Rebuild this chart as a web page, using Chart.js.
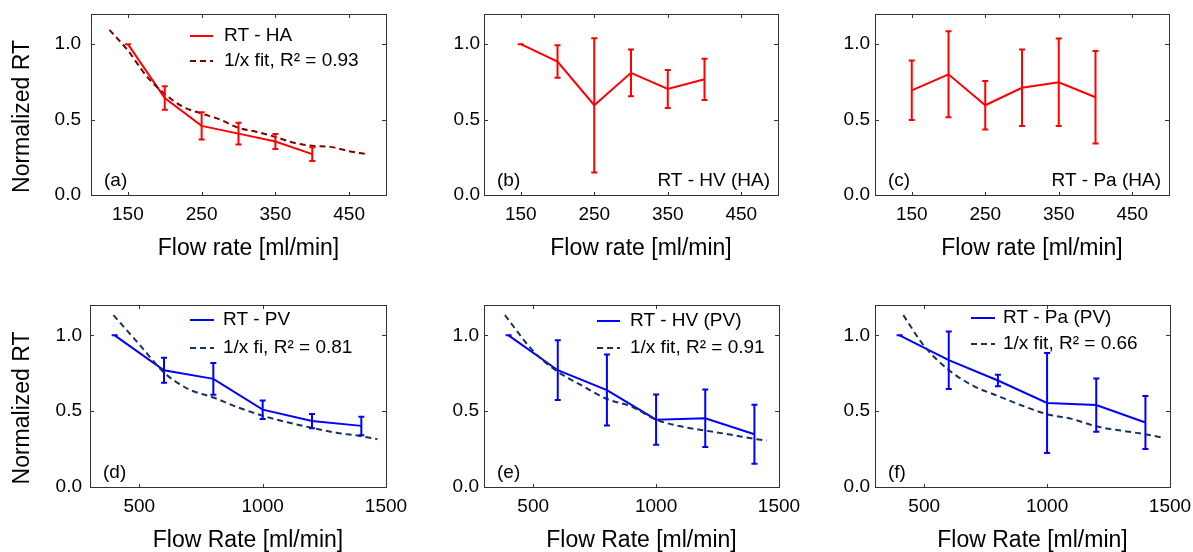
<!DOCTYPE html>
<html>
<head>
<meta charset="utf-8">
<script src="https://cdn.jsdelivr.net/npm/chart.js@4.4.1/dist/chart.umd.min.js"></script>
<style>
  html, body { margin: 0; padding: 0; background: #fff; }
  #wrap { position: relative; width: 1193px; height: 552px; overflow: hidden; background: #fff; }
  #wrap canvas { position: absolute; }
</style>
</head>
<body>
<div id="wrap"></div>
<script>
// ---- Hepatic artery (HA) flow sweep ----
const haFlow = [150, 200, 250, 300, 350, 400];
const haTicks = [150, 250, 350, 450];
const rtHA = [1.0, 0.643, 0.458, 0.407, 0.355, 0.271];
const rtHAErr = [0, 0.078, 0.09, 0.072, 0.05, 0.046];
const fitHAFlow = [125, 150, 175, 200, 225, 250, 275, 300, 325, 350, 375, 400, 425, 450, 475];
const fitHA = [1.095, 0.958, 0.79, 0.67, 0.584, 0.54, 0.50, 0.445, 0.418, 0.385, 0.346, 0.326, 0.319, 0.29, 0.27];
const rtHVHA = [1.0, 0.885, 0.595, 0.81, 0.703, 0.767];
const rtHVHAErr = [0, 0.107, 0.445, 0.155, 0.126, 0.137];
const rtPaHA = [0.694, 0.80, 0.595, 0.711, 0.747, 0.648];
const rtPaHAErr = [0.197, 0.285, 0.16, 0.254, 0.29, 0.306];

// ---- Portal vein (PV) flow sweep ----
const pvFlow = [400, 600, 800, 1000, 1200, 1400];
const pvTicks = [500, 1000, 1500];
const rtPV = [1.0, 0.77, 0.713, 0.51, 0.435, 0.403];
const rtPVErr = [0, 0.082, 0.105, 0.061, 0.047, 0.061];
const fitPVFlow = [395, 500, 600, 700, 800, 900, 1000, 1100, 1200, 1300, 1400, 1465];
const fitPV = [1.133, 0.94, 0.755, 0.645, 0.59, 0.525, 0.47, 0.427, 0.39, 0.357, 0.335, 0.315];
const rtHVPV = [1.0, 0.77, 0.639, 0.444, 0.453, 0.348];
const rtHVPVErr = [0, 0.197, 0.234, 0.166, 0.19, 0.194];
const fitHVPVFlow = [385, 500, 600, 700, 800, 900, 1000, 1100, 1200, 1300, 1400, 1450];
const fitHVPV = [1.133, 0.897, 0.76, 0.667, 0.58, 0.53, 0.444, 0.40, 0.372, 0.346, 0.317, 0.306];
const rtPaPV = [1.0, 0.836, 0.702, 0.554, 0.54, 0.425];
const rtPaPVErr = [0, 0.19, 0.038, 0.33, 0.175, 0.175];
const fitPaPVFlow = [415, 500, 600, 700, 800, 900, 1000, 1100, 1200, 1300, 1400, 1470];
const fitPaPV = [1.133, 0.93, 0.772, 0.667, 0.60, 0.536, 0.48, 0.449, 0.40, 0.372, 0.348, 0.326];

const yTicks = [0, 0.5, 1.0];

const FONT = '"Liberation Sans", Arial, Helvetica, sans-serif';
const RED = '#ff0000', DARKRED = '#800000', BLUE = '#0000ff', NAVY = '#17325f';
const FRAME = '#333333';

Chart.defaults.font.family = FONT;
Chart.defaults.color = '#000';

const panels = [
  { canvas: [0, 0, 420, 276], area: [91, 14, 386, 195], xRange: [100, 500], xTicks: haTicks,
    xTitle: 'Flow rate [ml/min]', yTitle: true, yPad: 10, tag: '(a)',
    series: { x: haFlow, y: rtHA, err: rtHAErr, color: RED, label: 'RT - HA' },
    fit: { x: fitHAFlow, y: fitHA, color: DARKRED, label: '1/x fit, R\u00b2 = 0.93' },
    legend: { x0: 99, x1: 122, tx: 133, rows: [22, 47] } },
  { canvas: [400, 0, 415, 276], area: [484, 14, 778, 195], xRange: [100, 500], xTicks: haTicks,
    xTitle: 'Flow rate [ml/min]', yTitle: false, yPad: 4, tag: '(b)', note: 'RT - HV (HA)',
    series: { x: haFlow, y: rtHVHA, err: rtHVHAErr, color: RED, label: 'RT - HV (HA)' } },
  { canvas: [790, 0, 403, 276], area: [875, 14, 1169, 195], xRange: [100, 500], xTicks: haTicks,
    xTitle: 'Flow rate [ml/min]', yTitle: false, yPad: 5, tag: '(c)', note: 'RT - Pa (HA)',
    series: { x: haFlow, y: rtPaHA, err: rtPaHAErr, color: RED, label: 'RT - Pa (HA)' } },
  { canvas: [0, 276, 420, 276], area: [90, 305, 386, 487], xRange: [300, 1500], xTicks: pvTicks,
    xTitle: 'Flow Rate [ml/min]', yTitle: true, yPad: 8, tag: '(d)',
    series: { x: pvFlow, y: rtPV, err: rtPVErr, color: BLUE, label: 'RT - PV' },
    fit: { x: fitPVFlow, y: fitPV, color: NAVY, label: '1/x fi, R\u00b2 = 0.81' },
    legend: { x0: 100, x1: 124, tx: 133, rows: [15, 43] } },
  { canvas: [400, 276, 415, 276], area: [484, 305, 779, 487], xRange: [300, 1500], xTicks: pvTicks,
    xTitle: 'Flow Rate [ml/min]', yTitle: false, yPad: 5, tag: '(e)',
    series: { x: pvFlow, y: rtHVPV, err: rtHVPVErr, color: BLUE, label: 'RT - HV (PV)' },
    fit: { x: fitHVPVFlow, y: fitHVPV, color: NAVY, label: '1/x fit, R\u00b2 = 0.91' },
    legend: { x0: 113, x1: 136, tx: 146, rows: [16, 43] } },
  { canvas: [790, 276, 403, 276], area: [875, 305, 1170, 487], xRange: [300, 1500], xTicks: pvTicks,
    xTitle: 'Flow Rate [ml/min]', yTitle: false, yPad: 5, tag: '(f)',
    series: { x: pvFlow, y: rtPaPV, err: rtPaPVErr, color: BLUE, label: 'RT - Pa (PV)' },
    fit: { x: fitPaPVFlow, y: fitPaPV, color: NAVY, label: '1/x fit, R\u00b2 = 0.66' },
    legend: { x0: 96, x1: 120, tx: 128, rows: [13, 39] } }
];

// Frame, inward ticks, error bars, legend and labels for one panel
function panelDecor(P) {
  return {
    id: 'panelDecor',
    afterDatasetsDraw(chart) {
      const ctx = chart.ctx, xs = chart.scales.x, ys = chart.scales.y;
      const s = P.series;
      ctx.save();
      ctx.strokeStyle = s.color;
      ctx.lineWidth = 2;
      s.x.forEach((xv, i) => {
        const px = xs.getPixelForValue(xv);
        const lo = ys.getPixelForValue(s.y[i] - s.err[i]);
        const hi = ys.getPixelForValue(s.y[i] + s.err[i]);
        ctx.beginPath();
        ctx.moveTo(px, lo); ctx.lineTo(px, hi);
        ctx.moveTo(px - 3, lo); ctx.lineTo(px + 3, lo);
        ctx.moveTo(px - 3, hi); ctx.lineTo(px + 3, hi);
        ctx.stroke();
      });
      ctx.restore();
    },
    afterDraw(chart) {
      const ctx = chart.ctx, a = chart.chartArea, xs = chart.scales.x, ys = chart.scales.y;
      ctx.save();
      // plot frame
      ctx.strokeStyle = FRAME;
      ctx.lineWidth = 1;
      ctx.strokeRect(Math.round(a.left) + 0.5, Math.round(a.top) + 0.5,
                     Math.round(a.right - a.left), Math.round(a.bottom - a.top));
      // inward tick marks on all four sides
      ctx.beginPath();
      xs.ticks.forEach(t => {
        const px = Math.round(xs.getPixelForValue(t.value)) + 0.5;
        if (px <= a.left + 1 || px >= a.right - 1) return;
        ctx.moveTo(px, a.bottom); ctx.lineTo(px, a.bottom - 3);
        ctx.moveTo(px, a.top); ctx.lineTo(px, a.top + 4);
      });
      ys.ticks.forEach(t => {
        const py = Math.round(ys.getPixelForValue(t.value)) + 0.5;
        if (py >= a.bottom - 1 || py <= a.top + 1) return;
        ctx.moveTo(a.left, py); ctx.lineTo(a.left + 4, py);
        ctx.moveTo(a.right, py); ctx.lineTo(a.right - 4, py);
      });
      ctx.stroke();

      ctx.fillStyle = '#000';
      // panel tag and note
      ctx.font = '19px ' + FONT;
      ctx.textBaseline = 'middle';
      ctx.textAlign = 'left';
      ctx.fillText(P.tag, a.left + 13, a.bottom - 14);
      if (P.note) {
        ctx.textAlign = 'right';
        ctx.fillText(P.note, a.right - 8, a.bottom - 14);
      }
      // legend
      if (P.legend) {
        const L = P.legend;
        const items = chart.data.datasets.slice().reverse();
        items.forEach((ds, i) => {
          const y = a.top + L.rows[i];
          ctx.save();
          ctx.strokeStyle = ds.borderColor;
          ctx.lineWidth = 2;
          ctx.setLineDash(ds.borderDash || []);
          ctx.beginPath();
          ctx.moveTo(a.left + L.x0, y); ctx.lineTo(a.left + L.x1, y);
          ctx.stroke();
          ctx.restore();
          ctx.textAlign = 'left';
          ctx.fillText(ds.label, a.left + L.tx, y);
        });
      }
      // axis titles
      ctx.font = '23px ' + FONT;
      ctx.textAlign = 'center';
      ctx.textBaseline = 'alphabetic';
      ctx.fillText(P.xTitle, (a.left + a.right) / 2 + 10, a.bottom + 60);
      if (P.yTitle) {
        ctx.translate(23, (a.top + a.bottom) / 2 + 12);
        ctx.rotate(-Math.PI / 2);
        ctx.textBaseline = 'middle';
        ctx.fillText('Normalized RT', 0, 0);
      }
      ctx.restore();
    }
  };
}

const wrap = document.getElementById('wrap');

panels.forEach(P => {
  const [cl, ct, cw, ch] = P.canvas;
  const [al, at, ar, ab] = P.area;
  const cv = document.createElement('canvas');
  cv.width = cw; cv.height = ch;
  cv.style.left = cl + 'px'; cv.style.top = ct + 'px';
  cv.style.width = cw + 'px'; cv.style.height = ch + 'px';
  wrap.appendChild(cv);

  const datasets = [];
  if (P.fit) {
    datasets.push({
      label: P.fit.label,
      data: P.fit.x.map((x, i) => ({ x, y: P.fit.y[i] })),
      borderColor: P.fit.color, borderWidth: 2, borderDash: [6, 4],
      borderCapStyle: 'butt', pointRadius: 0, fill: false,
      cubicInterpolationMode: 'monotone'
    });
  }
  datasets.push({
    label: P.series.label,
    data: P.series.x.map((x, i) => ({ x, y: P.series.y[i] })),
    borderColor: P.series.color, borderWidth: 2, pointRadius: 0, fill: false, tension: 0
  });

  new Chart(cv, {
    type: 'line',
    data: { datasets },
    options: {
      responsive: false,
      animation: false,
      devicePixelRatio: 1,
      layout: { padding: { top: at - ct, right: cl + cw - ar, left: 0, bottom: 0 } },
      plugins: { legend: { display: false }, tooltip: { enabled: false } },
      scales: {
        x: {
          type: 'linear', min: P.xRange[0], max: P.xRange[1],
          grid: { display: false, drawTicks: false },
          border: { display: false },
          ticks: { font: { size: 19 }, color: '#000', padding: 8, maxRotation: 0, autoSkip: false,
                   callback: v => String(v) },
          afterBuildTicks: s => { s.ticks = P.xTicks.map(v => ({ value: v })); },
          afterFit: s => { s.height = ct + ch - ab; s.paddingLeft = 0; s.paddingRight = 0; }
        },
        y: {
          type: 'linear', min: 0, max: 1.2,
          grid: { display: false, drawTicks: false },
          border: { display: false },
          ticks: { font: { size: 19 }, color: '#000', padding: P.yPad,
                   callback: v => v.toFixed(1) },
          afterBuildTicks: s => { s.ticks = yTicks.map(v => ({ value: v })); },
          afterFit: s => { s.width = al - cl; s.paddingTop = 0; s.paddingBottom = 0; }
        }
      }
    },
    plugins: [panelDecor(P)]
  });
});
</script>
</body>
</html>
